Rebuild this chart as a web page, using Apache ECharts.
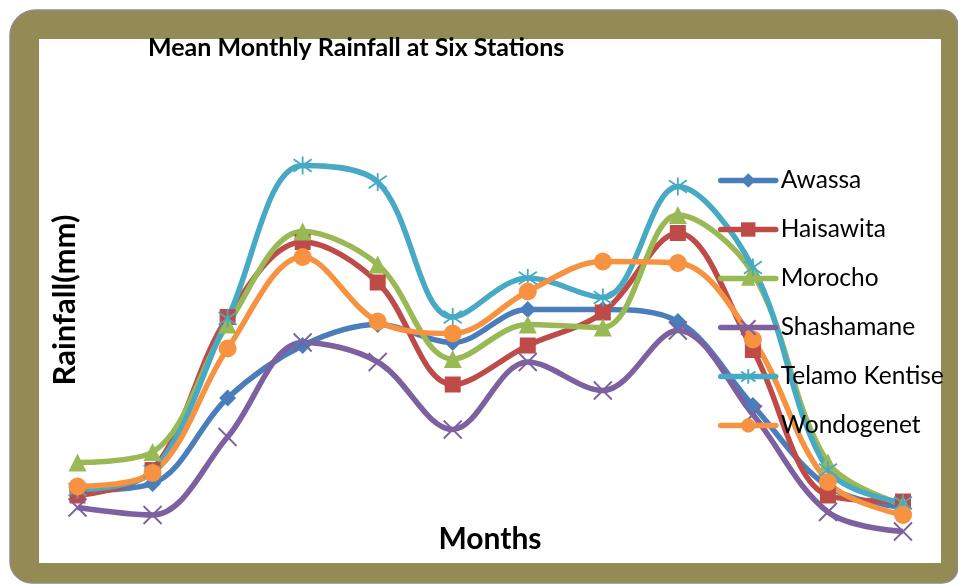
<!DOCTYPE html>
<html>
<head>
<meta charset="utf-8">
<title>Mean Monthly Rainfall at Six Stations</title>
<script src="https://cdn.jsdelivr.net/npm/echarts@6/dist/echarts.min.js"></script>
<style>
  html, body { margin: 0; padding: 0; background: #ffffff; }
  #chart { width: 958px; height: 585px; }
</style>
</head>
<body>
<div id="chart"></div>
<script>
// Months along the horizontal axis (labels are not printed on the chart)
const months = ['Jan', 'Feb', 'Mar', 'Apr', 'May', 'Jun', 'Jul', 'Aug', 'Sep', 'Oct', 'Nov', 'Dec'];

// Mean monthly rainfall (mm) per station
const awassa     = [36, 41, 98, 133, 147, 135, 157, 157, 149, 93, 39, 25];
const haisawita  = [33, 50, 152, 202, 175, 107, 133, 155, 208, 130, 33, 29];
const morocho    = [55, 62, 147, 209, 187, 124, 147, 145, 220, 181, 55, 27];
const shashamane = [25, 20, 72, 135, 122, 77, 122, 103, 143, 87, 22, 9];
const telamo     = [37, 49, 151, 253, 242, 152, 178, 165, 239, 185, 50, 28];
const wondogenet = [39, 48, 131, 192, 149, 141, 169, 189, 188, 137, 42, 20];

const stationNames = ['Awassa', 'Haisawita', 'Morocho', 'Shashamane', 'Telamo Kentise', 'Wondogenet'];
const stationData = [awassa, haisawita, morocho, shashamane, telamo, wondogenet];
const stationColors = ['#4A7EBB', '#BE4B48', '#98B954', '#7D60A0', '#46AAC5', '#F69240'];

// Marker shapes: diamond, square, triangle, cross, asterisk, circle
const CROSS = 'path://M0,0L10,10M10,0L0,10';
const STAR = 'path://M5,0L5,10M0.5,1.5L9.5,8.5M9.5,1.5L0.5,8.5';
const stationSymbols = ['diamond', 'rect', 'triangle', CROSS, STAR, 'circle'];
const stationSymbolSizes = [17, 16, 18, 18, 18, 18];

const FONT = 'Lato, "Open Sans", sans-serif';

const series = stationNames.map((name, i) => {
  const stroked = stationSymbols[i] === CROSS || stationSymbols[i] === STAR;
  return {
    name: name,
    type: 'line',
    data: stationData[i],
    smooth: 0.35,
    symbol: stationSymbols[i],
    symbolSize: stationSymbolSizes[i],
    showSymbol: true,
    lineStyle: { color: stationColors[i], width: 5.5 },
    itemStyle: {
      color: stationColors[i],
      borderColor: stationColors[i],
      borderWidth: stroked ? 1.8 : 0
    },
    emphasis: { disabled: true }
  };
});

const chart = echarts.init(document.getElementById('chart'), null, { renderer: 'canvas' });

chart.setOption({
  animation: false,
  backgroundColor: '#ffffff',
  graphic: [
    {
      type: 'rect', z: -10, silent: true,
      shape: { x: 10, y: 10, width: 948, height: 573, r: [26, 16, 16, 22] },
      style: { fill: '#948A54', stroke: '#8C8C8C', lineWidth: 1.5 }
    },
    {
      type: 'rect', z: -9, silent: true,
      shape: { x: 39, y: 39, width: 902, height: 524 },
      style: { fill: '#ffffff' }
    },
    {
      type: 'text', silent: true,
      x: 65, y: 300, rotation: Math.PI / 2,
      style: {
        text: 'Rainfall(mm)',
        fill: '#000000',
        font: 'bold 31px ' + FONT,
        align: 'center',
        verticalAlign: 'middle'
      }
    },
    {
      type: 'text', silent: true,
      x: 490, y: 539,
      style: {
        text: 'Months',
        fill: '#000000',
        font: 'bold 30px ' + FONT,
        align: 'center',
        verticalAlign: 'middle'
      }
    }
  ],
  title: {
    text: 'Mean Monthly Rainfall at Six Stations',
    left: 148,
    top: 35,
    padding: 0,
    textStyle: { fontFamily: FONT, fontWeight: 'bold', fontSize: 25, color: '#000000' }
  },
  legend: {
    orient: 'vertical',
    left: 718,
    top: 168,
    padding: 0,
    itemWidth: 55,
    itemHeight: 18,
    itemGap: 24,
    data: stationNames,
    lineStyle: { width: 5.5, cap: 'round' },
    textStyle: { fontFamily: FONT, fontSize: 24.5, color: '#000000', lineHeight: 24 }
  },
  grid: { left: 40, right: 17.5, top: 35, bottom: 40, containLabel: false },
  xAxis: {
    type: 'category',
    data: months,
    boundaryGap: true,
    axisLine: { show: false },
    axisTick: { show: false },
    axisLabel: { show: false },
    splitLine: { show: false }
  },
  yAxis: {
    type: 'value',
    min: 0,
    max: 340,
    axisLine: { show: false },
    axisTick: { show: false },
    axisLabel: { show: false },
    splitLine: { show: false }
  },
  series: series
});
</script>
</body>
</html>
